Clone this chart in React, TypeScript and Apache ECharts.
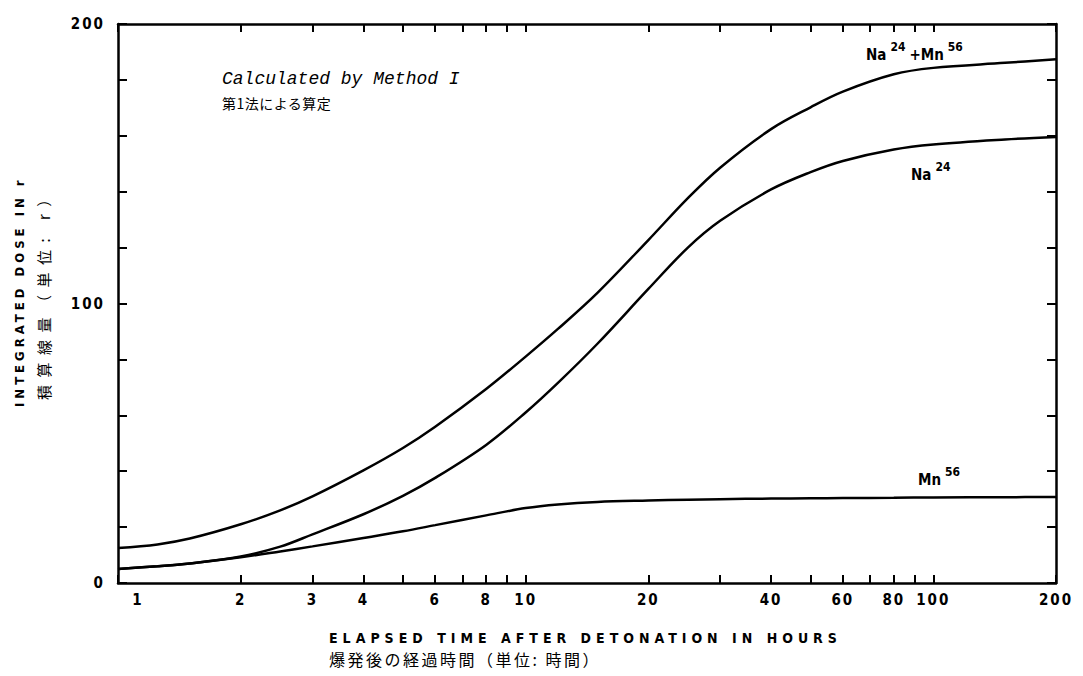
import React, { useEffect, useRef } from 'react';
import * as echarts from 'echarts';

// Elapsed time after detonation (hours)
const hours = [1, 1.25, 1.5, 2, 2.5, 3, 4, 5, 6, 8, 10, 12, 15, 20, 25, 30, 40, 50, 60, 80, 100, 150, 200];
// Integrated dose (r)
const naPlusMn = [12.5, 13.8, 15.9, 21, 26, 31, 40.3, 48.3, 55.9, 69.4, 81, 90.9, 103.8, 122.7, 137.7, 148.6, 162.4, 170.2, 175.8, 182, 184.3, 186.1, 187.4];
const na24 = [5, 6, 7, 9.5, 13.0, 17.4, 24.6, 31.2, 37.6, 49.4, 61, 71.6, 85.6, 105.2, 120, 129.6, 140.8, 147, 151, 155.1, 156.9, 158.7, 159.6];
const mn56 = [5, 6, 7, 9.2, 11.3, 13.1, 16.1, 18.5, 20.7, 24.2, 26.8, 28.1, 29, 29.5, 29.8, 30, 30.2, 30.3, 30.4, 30.5, 30.6, 30.7, 30.8];

const xTickHours = [1, 2, 3, 4, 5, 6, 7, 8, 9, 10, 20, 30, 40, 50, 60, 70, 80, 90, 100, 200];
const xLabelHours = [1, 2, 3, 4, 6, 8, 10, 20, 40, 60, 80, 100, 200];
const yLabelValues = [0, 100, 200];
const yMin = 0;
const yMax = 200;
const yTickStep = 20;
const xMinHours = 1;
const xMaxHours = 200;

const FONT = "'Liberation Sans Narrow', 'DejaVu Sans Condensed', sans-serif";
const FONT2 = "'DejaVu Sans Condensed', sans-serif";
const CJK = "'Noto Sans CJK JP', sans-serif";

const css = `
.cv text[style*="Narrow"][style*="15px"] { letter-spacing: 2px; }
.cv text[style*="Narrow"][style*="14px"] { letter-spacing: 5px; }
.cv text[style*="Narrow"][style*="13px"] { letter-spacing: 4px; }
.cv text[style*="CJK"][style*="16px"] { letter-spacing: 2.5px; }
.cv text[style*="CJK"][style*="15px"] { letter-spacing: 7.5px; }
.cv text[style*="CJK"][style*="14px"] { letter-spacing: 0.5px; }
`;

const lg = (v: number) => Math.log10(v);

export default function App() {
  const ref = useRef<HTMLDivElement>(null);
  useEffect(() => {
    if (!ref.current) return;
    const chart = echarts.init(ref.current, undefined, { renderer: 'svg' });
    const axisLine = { show: true, onZero: false, lineStyle: { color: '#000', width: 2.5 } };
    const tickStyle = { color: '#000', width: 2 };
    const labelBase = { color: '#000', fontSize: 15, fontWeight: 'bold', fontFamily: FONT };
    const xMin = lg(xMinHours);
    const xMax = lg(xMaxHours);
    const mk = (vals: number[]) => hours.map((h, i) => [lg(h), vals[i]]);
    const lineSeries = (name: string, vals: number[]) => ({
      name,
      type: 'line',
      xAxisIndex: 0,
      yAxisIndex: 0,
      data: mk(vals),
      smooth: 0.35,
      symbol: 'none',
      showSymbol: false,
      lineStyle: { color: '#000', width: 2.5 },
      silent: true,
    });
    const supRich = {
      b: { fontSize: 15, fontWeight: 'bold', fontFamily: FONT2, verticalAlign: 'bottom', lineHeight: 22, fill: '#000', padding: [0, 4, 0, 0] },
      s: { fontSize: 12, fontWeight: 'bold', fontFamily: FONT2, verticalAlign: 'top', lineHeight: 22, fill: '#000', padding: [0, 4, 0, 0] },
    };
    const tstyle = { align: 'left', verticalAlign: 'middle', textAlign: 'left', textVerticalAlign: 'middle' };
    chart.setOption({
      animation: false,
      backgroundColor: '#fff',
      grid: { left: 118, right: 27, top: 24, bottom: 93, containLabel: false },
      xAxis: [
        {
          type: 'value',
          position: 'bottom',
          min: xMin,
          max: xMax,
          axisLine,
          axisTick: { show: true, inside: true, length: 8, lineStyle: tickStyle, customValues: xTickHours.map(lg) },
          axisLabel: {
            ...labelBase,
            margin: 9,
            customValues: xLabelHours.map(lg),
            formatter: (v: number) => {
              const n = Math.round(Math.pow(10, v));
              return n === 1 ? '{o|1}' : String(n);
            },
            rich: { o: { ...labelBase, padding: [0, 0, 0, 40] } },
          },
          splitLine: { show: false },
        },
        {
          type: 'value',
          position: 'top',
          min: xMin,
          max: xMax,
          axisLine,
          axisTick: { show: true, inside: true, length: 8, lineStyle: tickStyle, customValues: xTickHours.map(lg) },
          axisLabel: { show: false },
          splitLine: { show: false },
        },
      ],
      yAxis: [
        {
          type: 'value',
          position: 'left',
          min: yMin,
          max: yMax,
          interval: yTickStep,
          axisLine,
          axisTick: { show: true, inside: true, length: 9, lineStyle: tickStyle },
          axisLabel: { ...labelBase, margin: 13, customValues: yLabelValues },
          splitLine: { show: false },
        },
        {
          type: 'value',
          position: 'right',
          min: yMin,
          max: yMax,
          interval: yTickStep,
          axisLine,
          axisTick: { show: true, inside: true, length: 9, lineStyle: tickStyle },
          axisLabel: { show: false },
          splitLine: { show: false },
        },
      ],
      series: [
        lineSeries('Na24+Mn56', naPlusMn),
        lineSeries('Na24', na24),
        lineSeries('Mn56', mn56),
      ],
      graphic: [
        {
          type: 'text', x: 222, y: 79, silent: true,
          style: { text: 'Calculated by Method I', fontSize: 18, fontStyle: 'italic', fontFamily: "'Liberation Mono', monospace", fill: '#000', ...tstyle },
        },
        {
          type: 'text', x: 222, y: 103, silent: true,
          style: { text: '第1法による算定', fontSize: 14, fontFamily: CJK, fill: '#000', ...tstyle },
        },
        {
          type: 'text', x: 866, y: 51.5, silent: true,
          style: { text: '{b|Na}{s|24}{b|+Mn}{s|56}', rich: supRich, ...tstyle },
        },
        {
          type: 'text', x: 911, y: 171.5, silent: true,
          style: { text: '{b|Na}{s|24}', rich: supRich, ...tstyle },
        },
        {
          type: 'text', x: 918, y: 476.5, silent: true,
          style: { text: '{b|Mn}{s|56}', rich: supRich, ...tstyle },
        },
        {
          type: 'text', x: 329, y: 638, silent: true,
          style: { text: 'ELAPSED TIME AFTER DETONATION IN HOURS', fontSize: 14, fontWeight: 'bold', fontFamily: FONT, fill: '#000', ...tstyle },
        },
        {
          type: 'text', x: 329, y: 659, silent: true,
          style: { text: '爆発後の経過時間（単位: 時間）', fontSize: 16, fontFamily: CJK, fill: '#000', ...tstyle },
        },
        {
          type: 'text', x: 19, y: 407, rotation: Math.PI / 2, silent: true,
          style: { text: 'INTEGRATED DOSE IN r', fontSize: 13, fontWeight: 'bold', fontFamily: FONT, fill: '#000', ...tstyle },
        },
        {
          type: 'text', x: 43, y: 400, rotation: Math.PI / 2, silent: true,
          style: { text: '積算線量（単位: r）', fontSize: 15, fontFamily: CJK, fill: '#000', ...tstyle },
        },
      ],
    });
    return () => chart.dispose();
  }, []);
  return (
    <>
      <style>{css}</style>
      <div
        ref={ref}
        className="cv"
        style={{ position: 'fixed', left: 0, top: 0, width: 1083, height: 676, background: '#fff' }}
      />
    </>
  );
}
